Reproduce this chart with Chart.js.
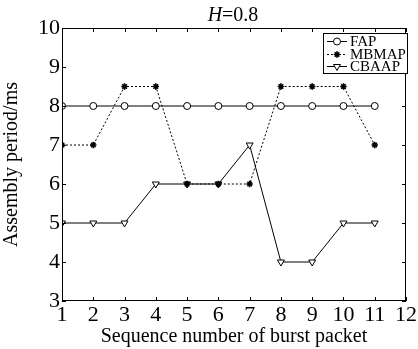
<!DOCTYPE html>
<html>
<head>
<meta charset="utf-8">
<script src="https://cdn.jsdelivr.net/npm/chart.js@4"></script>
<style>
  html, body { margin: 0; padding: 0; background: #fff; }
  #wrap { width: 418px; height: 349px; }
</style>
</head>
<body>
<div id="wrap"><canvas id="chart" width="418" height="349"></canvas></div>
<script>
const sequence = [1, 2, 3, 4, 5, 6, 7, 8, 9, 10, 11];
const fap = [8, 8, 8, 8, 8, 8, 8, 8, 8, 8, 8];
const mbmap = [7, 7, 8.5, 8.5, 6, 6, 6, 8.5, 8.5, 8.5, 7];
const cbaap = [5, 5, 5, 6, 6, 6, 7, 4, 4, 5, 5];
const xTicks = [1, 2, 3, 4, 5, 6, 7, 8, 9, 10, 11, 12];
const yTicks = [3, 4, 5, 6, 7, 8, 9, 10];
const seriesNames = ['FAP', 'MBMAP', 'CBAAP'];

const serif = "'Liberation Serif', 'DejaVu Serif', serif";

function toPoints(values) {
    return values.map((v, i) => ({ x: sequence[i], y: v }));
}

// frame, inward ticks, title and boxed legend
const decorations = {
    id: 'decorations',
    afterDatasetsDraw(chart) {
        const ctx = chart.ctx;
        const area = chart.chartArea;
        const xs = chart.scales.x;
        const ys = chart.scales.y;
        ctx.save();
        ctx.strokeStyle = '#000';
        ctx.lineWidth = 1;
        ctx.strokeRect(area.left + 0.5, area.top + 0.5, area.right - area.left - 1, area.bottom - area.top - 1);
        ctx.beginPath();
        xTicks.forEach(t => {
            const px = Math.round(xs.getPixelForValue(t)) + 0.5;
            ctx.moveTo(px, area.bottom); ctx.lineTo(px, area.bottom - 4);
            ctx.moveTo(px, area.top); ctx.lineTo(px, area.top + 4);
        });
        yTicks.forEach(t => {
            const py = Math.round(ys.getPixelForValue(t)) + 0.5;
            ctx.moveTo(area.left, py); ctx.lineTo(area.left + 4, py);
            ctx.moveTo(area.right, py); ctx.lineTo(area.right - 4, py);
        });
        ctx.stroke();

        // title  H=0.8
        ctx.fillStyle = '#000';
        ctx.textBaseline = 'alphabetic';
        ctx.font = 'italic 20px ' + serif;
        const hW = ctx.measureText('H').width;
        ctx.font = '20px ' + serif;
        const restW = ctx.measureText('=0.8').width;
        const tx = 233 - (hW + restW) / 2;
        ctx.font = 'italic 20px ' + serif;
        ctx.fillText('H', tx, 21);
        ctx.font = '20px ' + serif;
        ctx.fillText('=0.8', tx + hW, 21);

        // legend
        const lx = 323, ly = 33, lw = 84, lh = 40;
        ctx.fillStyle = '#fff';
        ctx.fillRect(lx, ly, lw, lh);
        ctx.strokeRect(lx + 0.5, ly + 0.5, lw, lh);
        chart.data.datasets.forEach((ds, i) => {
            const y = Math.round(ly + 8 + i * 12.5) + 0.5;
            ctx.save();
            ctx.strokeStyle = '#000';
            ctx.lineWidth = 1;
            ctx.setLineDash(ds.borderDash || []);
            ctx.beginPath();
            ctx.moveTo(lx + 4, y); ctx.lineTo(lx + 24, y);
            ctx.stroke();
            ctx.setLineDash([]);
            ctx.fillStyle = ds.pointBackgroundColor;
            ctx.lineWidth = ds.pointBorderWidth;
            Chart.helpers.drawPoint(ctx, {
                pointStyle: ds.pointStyle,
                radius: ds.pointRadius,
                rotation: ds.pointRotation || 0,
                borderWidth: ds.pointBorderWidth
            }, lx + 14, y);
            ctx.restore();
            ctx.fillStyle = '#000';
            ctx.font = '15px ' + serif;
            ctx.textBaseline = 'middle';
            ctx.fillText(seriesNames[i], lx + 27, y + 1);
        });
        ctx.restore();
    }
};

function pointDefaults(style, radius, fill) {
    return {
        pointStyle: style,
        pointRadius: radius,
        pointBackgroundColor: fill,
        pointBorderColor: '#000',
        pointBorderWidth: 1,
        borderColor: '#000',
        borderWidth: 1,
        fill: false,
        tension: 0
    };
}

const ctx = document.getElementById('chart').getContext('2d');
new Chart(ctx, {
    type: 'line',
    data: {
        datasets: [
            Object.assign({ label: seriesNames[0], data: toPoints(fap) }, pointDefaults('circle', 3.5, '#fff')),
            Object.assign({ label: seriesNames[1], data: toPoints(mbmap) },
                pointDefaults('star', 3.2, '#000'), { borderDash: [2, 2], pointBorderWidth: 1.6 }),
            Object.assign({ label: seriesNames[2], data: toPoints(cbaap), pointRotation: 180 },
                pointDefaults('triangle', 4, '#fff'))
        ]
    },
    plugins: [decorations],
    options: {
        responsive: false,
        animation: false,
        devicePixelRatio: 1,
        layout: { autoPadding: false, padding: { top: 28, right: 8, left: 0, bottom: 0 } },
        plugins: { legend: { display: false }, tooltip: { enabled: false }, title: { display: false } },
        elements: { line: { borderJoinStyle: 'miter' } },
        scales: {
            x: {
                type: 'linear', min: 1, max: 12,
                afterBuildTicks: s => { s.ticks = xTicks.map(v => ({ value: v })); },
                afterFit: s => { s.height = 48; },
                grid: { display: false, drawTicks: false },
                border: { display: false },
                ticks: { color: '#000', font: { family: serif, size: 22 }, padding: 1, maxRotation: 0, autoSkip: false },
                title: { display: true, text: 'Sequence number of burst packet', color: '#000',
                    font: { family: serif, size: 20 }, padding: { top: -3, bottom: 0 } }
            },
            y: {
                min: 3, max: 10,
                afterBuildTicks: s => { s.ticks = yTicks.map(v => ({ value: v })); },
                afterFit: s => { s.width = 62; },
                grid: { display: false, drawTicks: false },
                border: { display: false },
                ticks: { color: '#000', font: { family: serif, size: 22 }, padding: 2, autoSkip: false },
                title: { display: true, text: 'Assembly period/ms', color: '#000',
                    font: { family: serif, size: 20 }, padding: { top: 0, bottom: 0 } }
            }
        }
    }
});
</script>
</body>
</html>
